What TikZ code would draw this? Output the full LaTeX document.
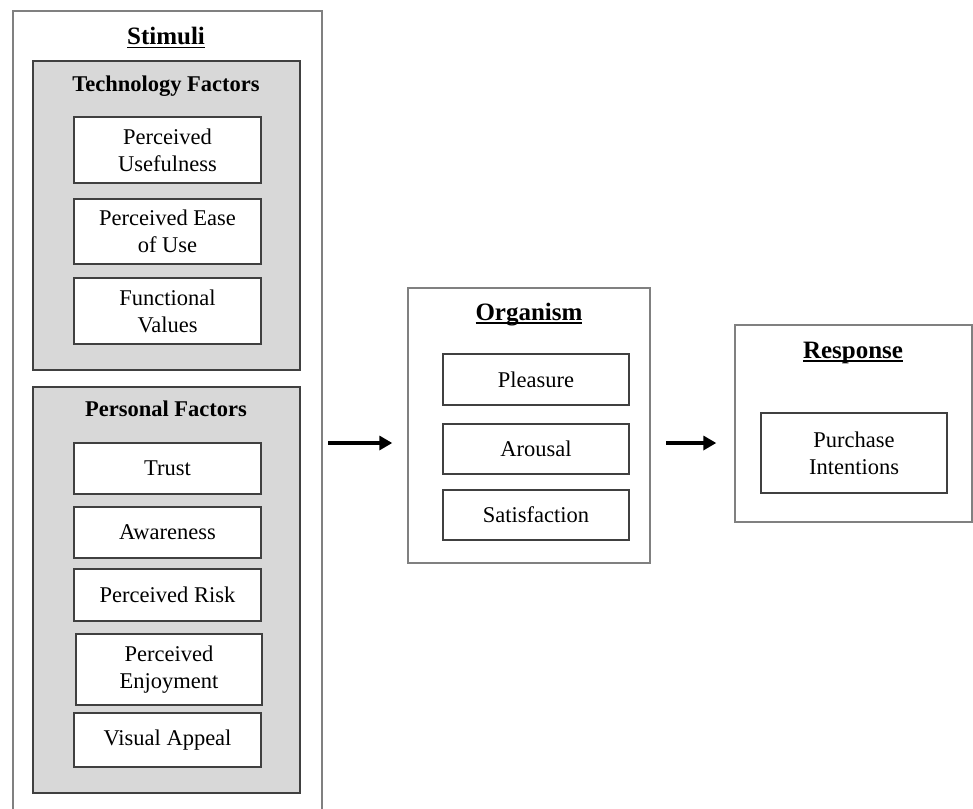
\documentclass[tikz,border=0pt]{standalone}
\usepackage{fontspec}
\setmainfont{Liberation Serif}
\usetikzlibrary{arrows.meta}
\definecolor{boxgrey}{RGB}{216,216,216}
\definecolor{framegrey}{RGB}{128,128,128}
\definecolor{edgegrey}{RGB}{64,64,64}
% underlined heading, rule cut through the descenders
\newcommand\ultitle[1]{\setbox0\hbox{#1}\rlap{\rule[-3.5pt]{\wd0}{1.8pt}}\box0}
\tikzset{
	frame/.style={draw=framegrey, line width=1.4pt, fill=white, inner sep=0pt},
	group/.style={draw=edgegrey, line width=2.4pt, fill=boxgrey, inner sep=0pt},
	item/.style={draw=edgegrey, line width=2pt, fill=white, inner sep=0pt, align=center,
		font=\fontsize{22.5}{27}\selectfont},
	heading/.style={anchor=base, font=\fontsize{25}{30}\selectfont\bfseries},
	subheading/.style={anchor=base, font=\fontsize{22.5}{27}\selectfont\bfseries},
	flow/.style={line width=3.5pt, -{Triangle[length=13pt,width=14pt]}}
}
\begin{document}
\begin{tikzpicture}[x=1pt,y=-1pt]
		\useasboundingbox (0,0) rectangle (973,808);
		%Frames of the three stages
		\node[frame, minimum width=309pt, minimum height=819pt] (stim) at (167.5,420.5) {};
		\node[frame, minimum width=242pt, minimum height=275pt] (org) at (529,425.5) {};
		\node[frame, minimum width=237pt, minimum height=197pt] (resp) at (853.5,423.5) {};
		\node[heading] (stimtitle) at (166,45) {\ultitle{Stimuli}};
		\node[heading] (orgtitle) at (529,320) {\ultitle{Organism}};
		\node[heading] (resptitle) at (853,358) {\ultitle{Response}};
		%Technology factors
		\node[group, minimum width=267pt, minimum height=309pt] (tech) at (166.5,215.5) {};
		\node[subheading] (techtitle) at (166,91) {Technology Factors};
		\node[item, minimum width=187pt, minimum height=66pt] (useful) at (167.5,150) {Perceived\\Usefulness};
		\node[item, minimum width=187pt, minimum height=65pt] (ease) at (167.5,231.5) {Perceived Ease\\of Use};
		\node[item, minimum width=187pt, minimum height=66pt] (func) at (167.5,311) {Functional\\Values};
		%Personal factors
		\node[group, minimum width=267pt, minimum height=406pt] (pers) at (166.5,590) {};
		\node[subheading] (perstitle) at (166,416) {Personal Factors};
		\node[item, minimum width=187pt, minimum height=51pt] (trust) at (167.5,468.5) {Trust};
		\node[item, minimum width=187pt, minimum height=51pt] (aware) at (167.5,532.5) {Awareness};
		\node[item, minimum width=187pt, minimum height=52pt] (risk) at (167.5,595) {Perceived Risk};
		\node[item, minimum width=186pt, minimum height=71pt] (enjoy) at (169,669.5) {Perceived\\Enjoyment};
		\node[item, minimum width=187pt, minimum height=54pt] (visual) at (167.5,740) {Visual Appeal};
		%Organism
		\node[item, minimum width=186pt, minimum height=51pt] (pleasure) at (536,379.5) {Pleasure};
		\node[item, minimum width=186pt, minimum height=50pt] (arousal) at (536,449) {Arousal};
		\node[item, minimum width=186pt, minimum height=50pt] (satis) at (536,515) {Satisfaction};
		%Response
		\node[item, minimum width=186pt, minimum height=80pt] (purchase) at (854,453) {Purchase\\Intentions};
		%Arrows between the stages
		\coordinate (s2o) at (328,443);
		\coordinate (o2r) at (666,443);
		\draw[flow] (s2o) -- ([xshift=-15pt]s2o -| org.west);
		\draw[flow] (o2r) -- ([xshift=-18pt]o2r -| resp.west);
\end{tikzpicture}
\end{document}
